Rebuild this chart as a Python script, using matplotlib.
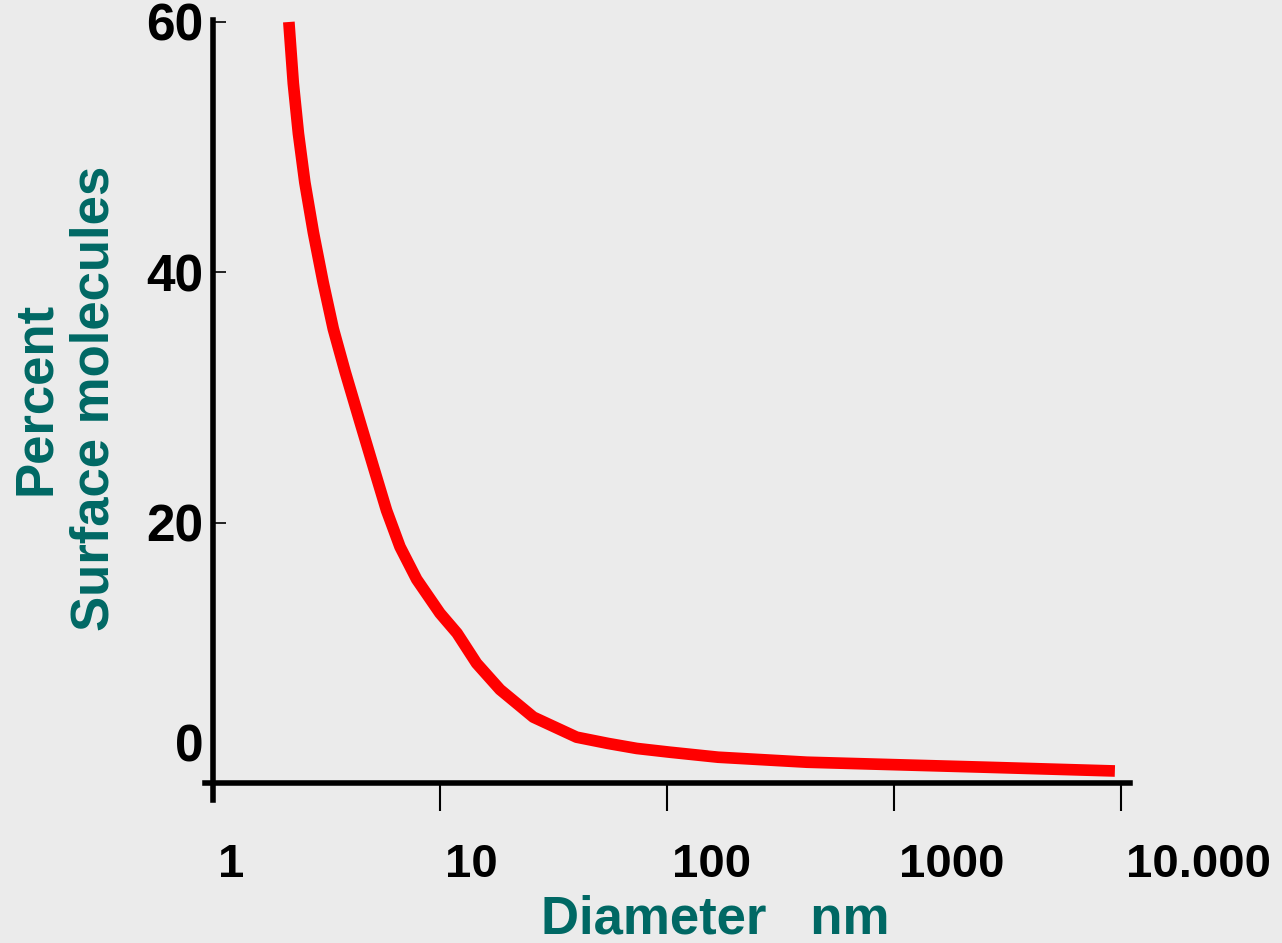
import numpy as np
import matplotlib.pyplot as plt
from matplotlib.ticker import FixedLocator

# values
diameter_nm = [2.16, 2.26, 2.38, 2.54, 2.77, 3.06, 3.39, 3.82, 4.44, 5.09,
               5.82, 6.67, 7.90, 10.0, 11.9, 14.5, 18.4, 25.8, 40.0, 55.0,
               73.6, 103, 168, 414, 1020, 2540, 9410]
surface_pct = [60.0, 55.1, 51.1, 47.2, 43.2, 39.2, 35.5, 32.1, 28.1, 24.5,
               21.0, 18.1, 15.5, 12.8, 11.2, 8.8, 6.7, 4.5, 2.9, 2.4,
               2.0, 1.7, 1.3, 0.9, 0.7, 0.5, 0.2]

x_ticks = [1, 10, 100, 1000, 10000]
x_tick_labels = ["1", "10", "100", "1000", "10.000"]
y_ticks = [20, 40, 60]
y_tick_labels = ["20", "40", "60"]

bg = "#ebebeb"
teal = "#006864"
font = "Liberation Sans"
x_axis_at = -0.76

fig = plt.figure(figsize=(12.82, 9.43), dpi=100, facecolor=bg)
ax = fig.add_axes([0.1599, 0.1516, 0.7215, 0.8272])
ax.set_facecolor(bg)

ax.plot(diameter_nm, surface_pct, color="#ff0000", lw=8.4, solid_capstyle="butt",
        solid_joinstyle="round", zorder=3)

ax.set_xscale("log")
ax.set_xlim(10 ** -0.035, 10 ** 4.04)
ax.set_ylim(-2.12, 60.16)

for side in ("top", "right"):
    ax.spines[side].set_visible(False)
ax.spines["left"].set_position(("data", 1))
ax.spines["bottom"].set_position(("data", x_axis_at))
ax.spines["left"].set_linewidth(4)
ax.spines["bottom"].set_linewidth(4)

ax.xaxis.set_major_locator(FixedLocator(x_ticks[1:]))
ax.xaxis.set_minor_locator(FixedLocator([]))
ax.set_yticks(y_ticks)
ax.set_yticklabels(y_tick_labels)

ax.tick_params(axis="x", direction="out", length=20, width=1.5,
               labelbottom=False)
ax.tick_params(axis="y", direction="in", length=9, width=1.2, pad=7,
               labelsize=37)
for lab in ax.get_yticklabels():
    lab.set_fontfamily(font)
    lab.set_fontweight("bold")

# x labels sit to the right of their ticks, as on the slide
for xv, txt in zip(x_ticks, x_tick_labels):
    ax.annotate(txt, xy=(xv, x_axis_at), xycoords="data", xytext=(3.5, -59),
                textcoords="offset points", ha="left", va="center",
                fontsize=34, fontweight="bold", family=font,
                annotation_clip=False)

ax.annotate("0", xy=(1, 0), xycoords="data", xytext=(-7, 18),
            textcoords="offset points", ha="right", va="center",
            fontsize=37, fontweight="bold", family=font)

fig.text(0.051, 0.578, "Percent\nSurface molecules", rotation=90,
         ha="center", va="center", multialignment="center", color=teal,
         fontsize=38, fontweight="bold", family=font, linespacing=1.2)
fig.text(0.558, 0.025, "Diameter   nm", ha="center", va="center", color=teal,
         fontsize=38, fontweight="bold", family=font)

fig.savefig("out.png", dpi=100, facecolor=bg)
